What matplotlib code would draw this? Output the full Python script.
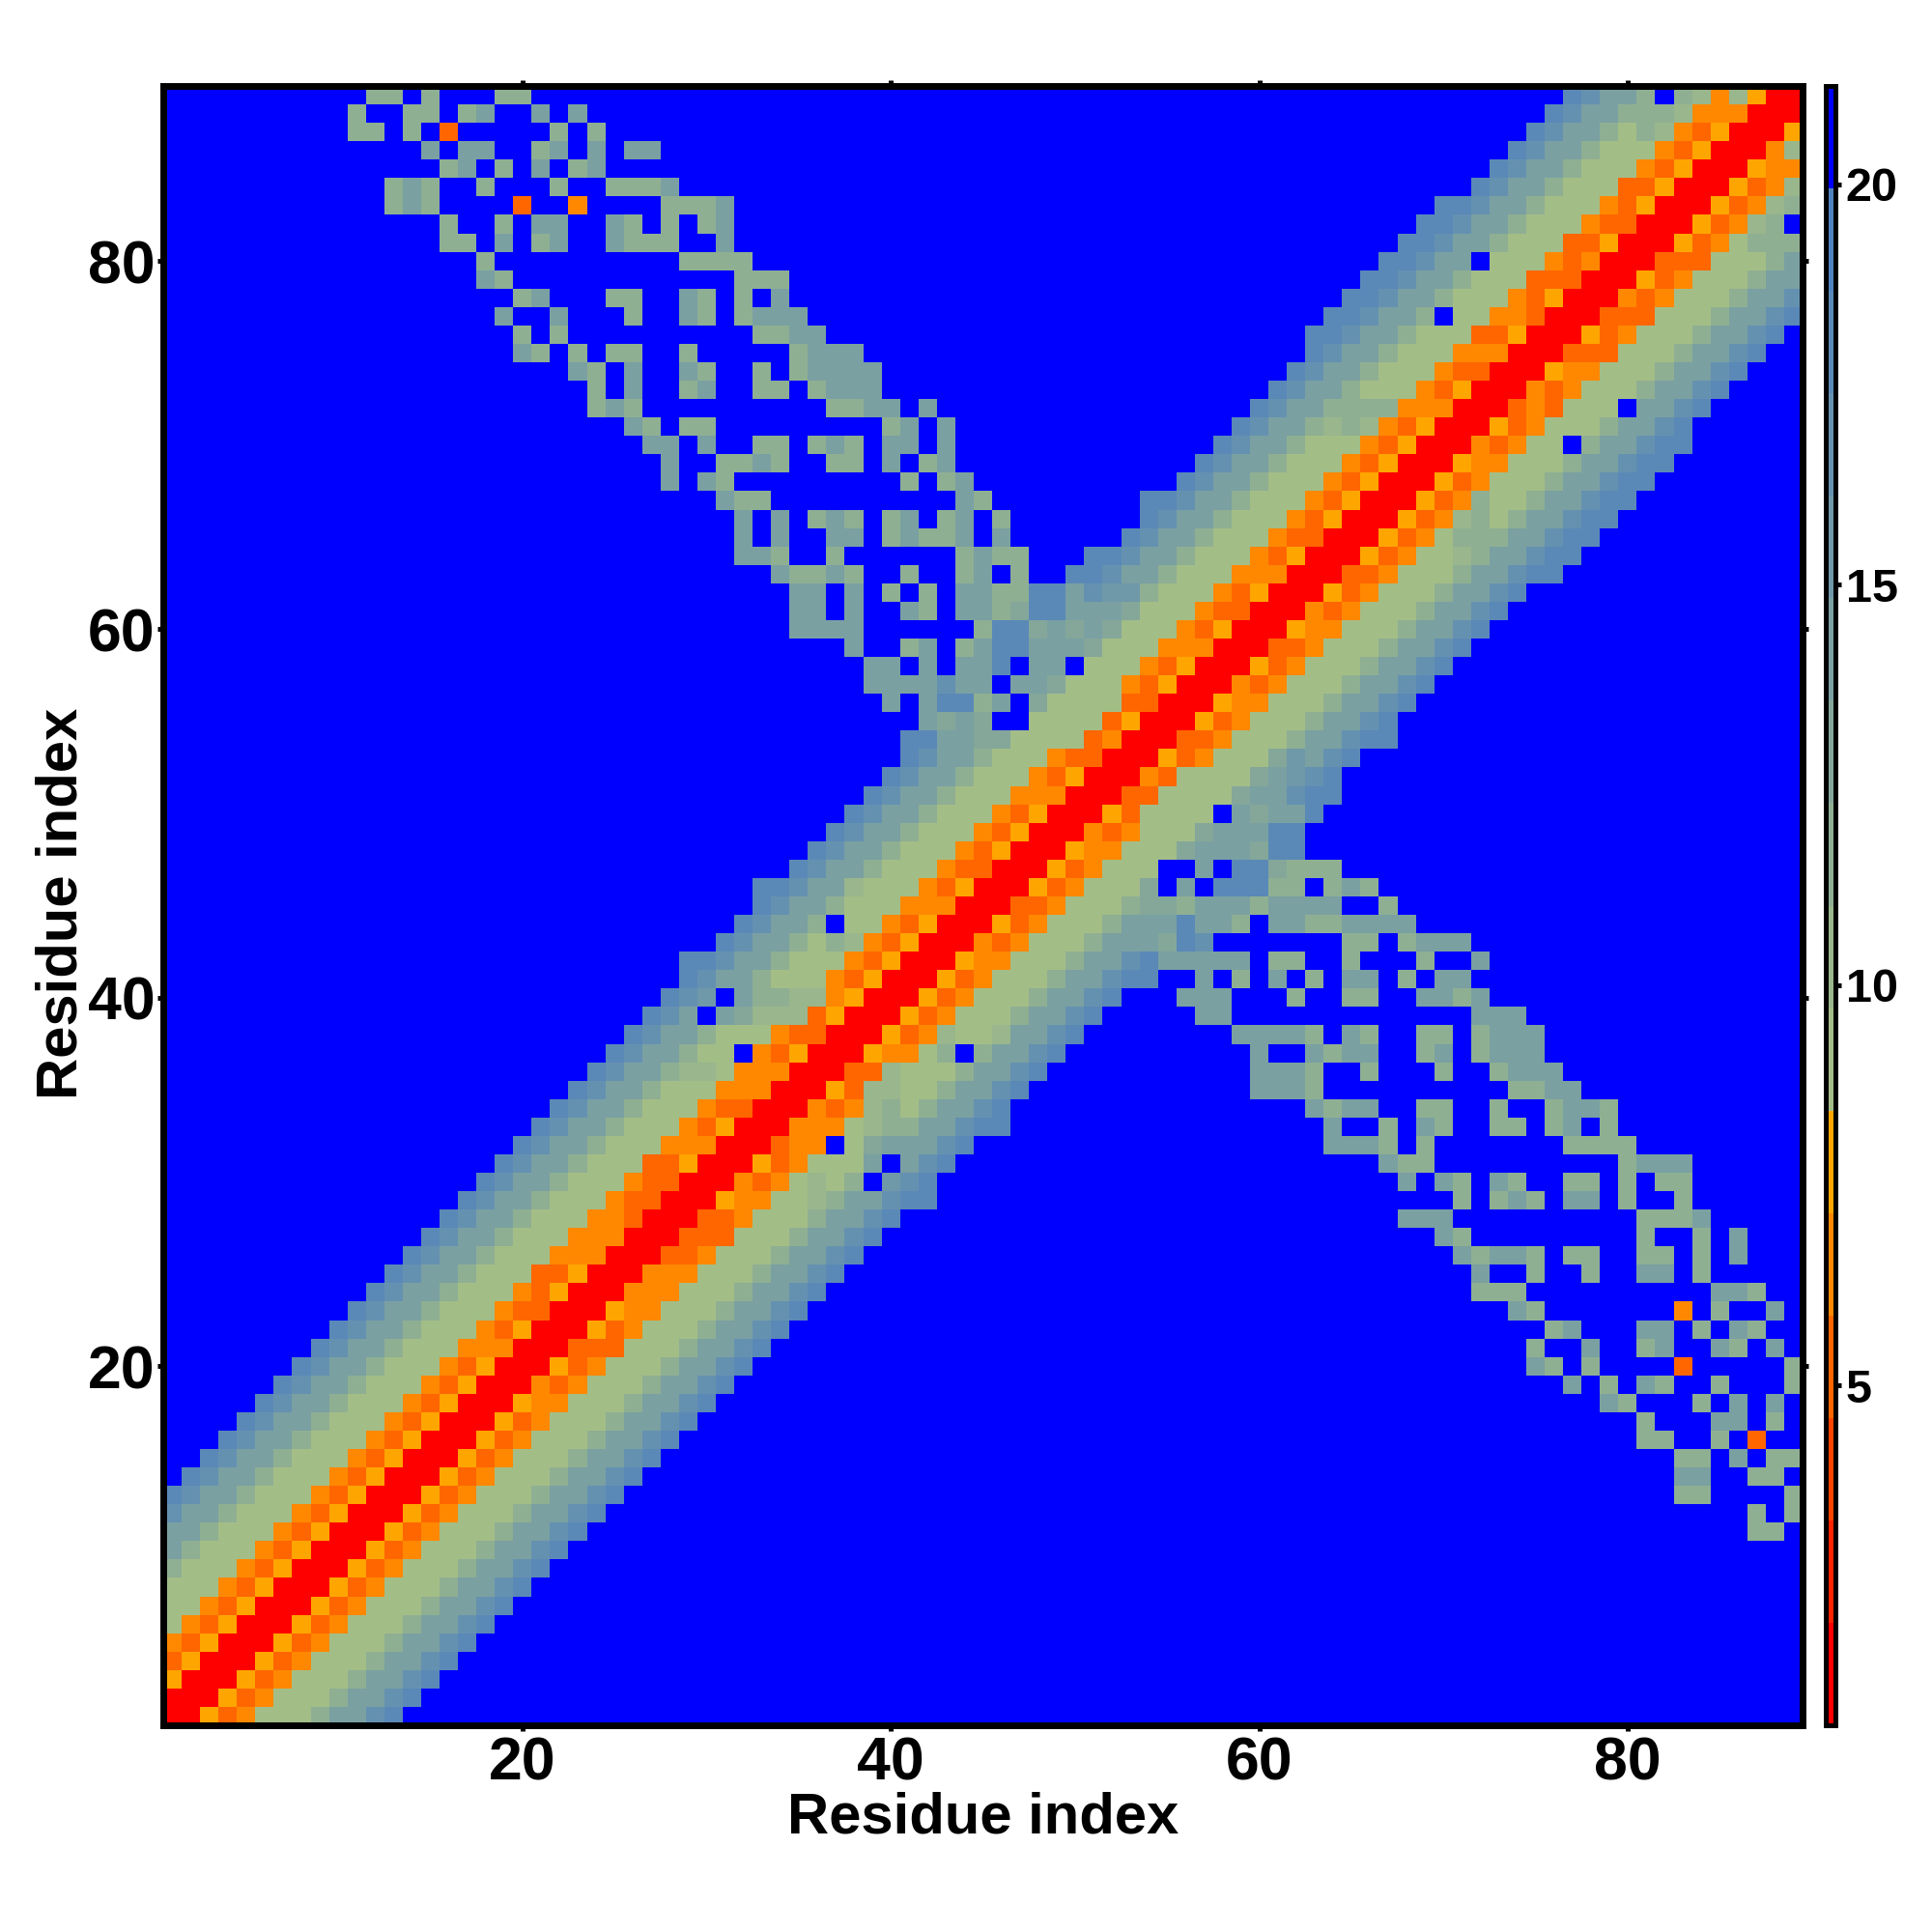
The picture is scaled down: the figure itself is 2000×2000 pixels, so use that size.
import numpy as np
import matplotlib
matplotlib.use("Agg")
import matplotlib.pyplot as plt
from matplotlib.colors import ListedColormap, BoundaryNorm

N_RES = 89
COLOR_MIN = 0.76
COLOR_MAX = 21.23
N_LEVELS = 16
AXIS_TICKS = [20, 40, 60, 80]
COLORBAR_TICKS = [5, 10, 15, 20]
AXIS_LABEL = "Residue index"

# Colour class of each cell (hex digit, 0 = shortest distance, f = farthest).
# BAND_LEVELS[r-1][d] is the cell at row r, column r-d (the map is symmetric).
BAND_LEVELS = [
    "005346668aacd", "005346668aacd", "005346668aacd", "005346668aacd", "005346668aacd",  # 1-5
    "005346668aacd", "005346668aacd", "005346668aacd", "005346668aacd", "005346668aacd",  # 6-10
    "005346668aacd", "005346668aacd", "005346668aacd", "005346668aacd", "005346668aacd",  # 11-15
    "005346668aacd", "005346668aacd", "005346668aacd", "005346668aacd", "005346668aacd",  # 16-20
    "004446668aacd", "005346668aacd", "003346668aacd", "005346668aacd", "005336668aacd",  # 21-25
    "004446668aacd", "004446668aacd", "003446668aacd", "003346668aacd", "003346668aacd",  # 26-30
    "005336668aacd", "004446668aacd", "005346668aacd", "003346668aacd", "004446668aacd",  # 31-35
    "004446778aacd", "00534f668aacd", "003346668aacd", "00537779afacd", "00547788afbcd",  # 36-40
    "005346668aacd", "005346668aacdd", "005347868aacd", "0053466f8aacd", "004446668aacd",  # 41-45
    "005346667aacdd", "003346668aacd", "005346668aacd", "005346668aacd", "005346668aacd",  # 46-50
    "004446668aacd", "005346668aacd", "003346668aacd", "0043666699aadd", "00536666ff9a9a",  # 51-55
    "003366669fa8dda", "005346669aafaaca", "00534666faafdaafa", "004446669aaadda8fa",  # 56-59
    "005346669a9a9dd8", "003346669aaadd98aaf8", "005346668bbcadd88aaf8",  # 60-62
    "004446668aacddff8fa8", "005346668aacddfff88a8", "003346668aacd",  # 63-65
    "005346668aacd", "005346668aacdd", "005346668aacd", "005346668aacd", "005346668aacd",  # 66-70
    "005347878aacd", "004448888aacd", "005346668aacd", "003346668aacd", "004446668aacd",  # 71-75
    "005336668aacdd", "0034466f8aacdd", "005346668aacdd", "003336668aacdd", "00434666faacdd",  # 76-80
    "005336668aacdd", "003346668aacdd", "005346668aacdd", "005336668aacd", "005346668aacd",  # 81-85
    "005346668aacd", "005347868aacd", "004447888aacd", "0057478f8aacd",  # 86-89
]

# Off-band arm: row, first column, colour classes from that column rightwards.
ARM_ROWS = [56, 57, 58, 59, 60, 61, 62, 63, 64, 65, 66, 67, 68, 69, 70, 71, 72, 73, 74, 75,
            76, 77, 78, 79, 80, 81, 82, 83, 84, 85, 86, 87, 88, 89]
ARM_STARTS = [40, 39, 39, 38, 35, 35, 35, 34, 32, 32, 32, 31, 28, 28, 27, 26, 24, 24, 23, 20,
              20, 19, 20, 18, 18, 16, 16, 13, 13, 16, 15, 11, 11, 12]
ARM_LEVELS = [
    "a", "aaa", "aa", "aff8", "aaaa", "aafaffa", "aafaf8", "a88a8ff8", "aa8ff8",
    "afaffaaf8a88afa", "afaf8a8f8af8af8", "a88ffffffffffa8", "afa8fffffffff8f8a",
    "aff88a8ff88faf8a", "aafaff88f8a8faafa", "a8f88fffffffff8afa", "8a8ffffffffff88aafa",
    "8faff8aff88f8aaa", "a8faffa8ff8f8aaaa", "a8f8f88ff8fffff8aaa", "8f8ffffffffff88aa",
    "affafff8ffa8f8aaa", "8afff88ffa8f8fa", "a8ffffffffffff888", "8ffffffffff8888",
    "88faf8affa888ffa", "8ff8faaffa8f8f8a", "8a8ffff3ff4ffff888a", "8a8ff8fff8ff888a",
    "8af8faf8a", "afaaff8afafaa", "88f8f3fffff8f8", "8ff88f8affafa", "88f8fff88",
]

PALETTE = ["#ff0000", "#ff2200", "#ff4400", "#ff6600", "#ff8800", "#ffa500",
           "#a3bd87", "#99b68c", "#8faf93", "#84a79a", "#7aa0a2", "#6f98a9",
           "#6591b0", "#5a89b7", "#5082be", "#0000ff"]

plt.rcParams["font.family"] = ["Liberation Sans", "DejaVu Sans"]
plt.rcParams["font.weight"] = "bold"

level_grid = np.full((N_RES, N_RES), N_LEVELS - 1, dtype=int)
for row, start, levels in zip(ARM_ROWS, ARM_STARTS, ARM_LEVELS):
    for k, ch in enumerate(levels):
        col = start + k
        level_grid[row - 1, col - 1] = int(ch, 16)
        level_grid[col - 1, row - 1] = int(ch, 16)
for row, levels in enumerate(BAND_LEVELS, start=1):
    for d, ch in enumerate(levels):
        col = row - d
        if col >= 1:
            level_grid[row - 1, col - 1] = int(ch, 16)
            level_grid[col - 1, row - 1] = int(ch, 16)

bounds = np.linspace(COLOR_MIN, COLOR_MAX, N_LEVELS + 1)
mids = 0.5 * (bounds[:-1] + bounds[1:])
values = mids[level_grid]
cmap = ListedColormap(PALETTE)
norm = BoundaryNorm(bounds, cmap.N)

W = 2000.0
fig = plt.figure(figsize=(20, 20), dpi=100, facecolor="white")
ax = fig.add_axes([169 / W, (W - 1786) / W, 1697 / W, 1697 / W])
edges = np.arange(0.5, N_RES + 1)
ax.pcolormesh(edges, edges, values, cmap=cmap, norm=norm, shading="flat", antialiased=False, rasterized=True)
ax.set_xlim(0.5, N_RES + 0.5)
ax.set_ylim(0.5, N_RES + 0.5)
ax.set_xticks(AXIS_TICKS)
ax.set_yticks(AXIS_TICKS)
ax.tick_params(axis="both", which="major", direction="out", length=4.3, width=3.6,
               top=True, right=True, labelsize=45)
ax.tick_params(axis="x", pad=3.5)
ax.tick_params(axis="y", pad=2)
for lab in ax.get_xticklabels() + ax.get_yticklabels():
    lab.set_fontweight("bold")
for sp in ax.spines.values():
    sp.set_linewidth(5)

fig.text(1018 / W, 1 - 1882 / W, AXIS_LABEL, ha="center", va="center", fontsize=43, fontweight="bold")
fig.text(64 / W, 1 - 935 / W, AXIS_LABEL, ha="center", va="center", rotation=90, fontsize=43, fontweight="bold")

cax = fig.add_axes([1889.5 / W, (W - 1786) / W, 11 / W, 1697 / W])
cax.pcolormesh([0, 1], bounds, mids[:, None], cmap=cmap, norm=norm, shading="flat", antialiased=False, rasterized=True)
cax.set_xlim(0, 1)
cax.set_ylim(COLOR_MIN, COLOR_MAX)
cax.set_xticks([])
cax.yaxis.tick_right()
cax.set_yticks(COLORBAR_TICKS)
cax.tick_params(axis="y", direction="out", length=4.3, width=3.6, labelsize=35, pad=3)
for lab in cax.get_yticklabels():
    lab.set_fontweight("bold")
for sp in cax.spines.values():
    sp.set_linewidth(3.6)

fig.savefig("out.png", dpi=100, facecolor="white")
